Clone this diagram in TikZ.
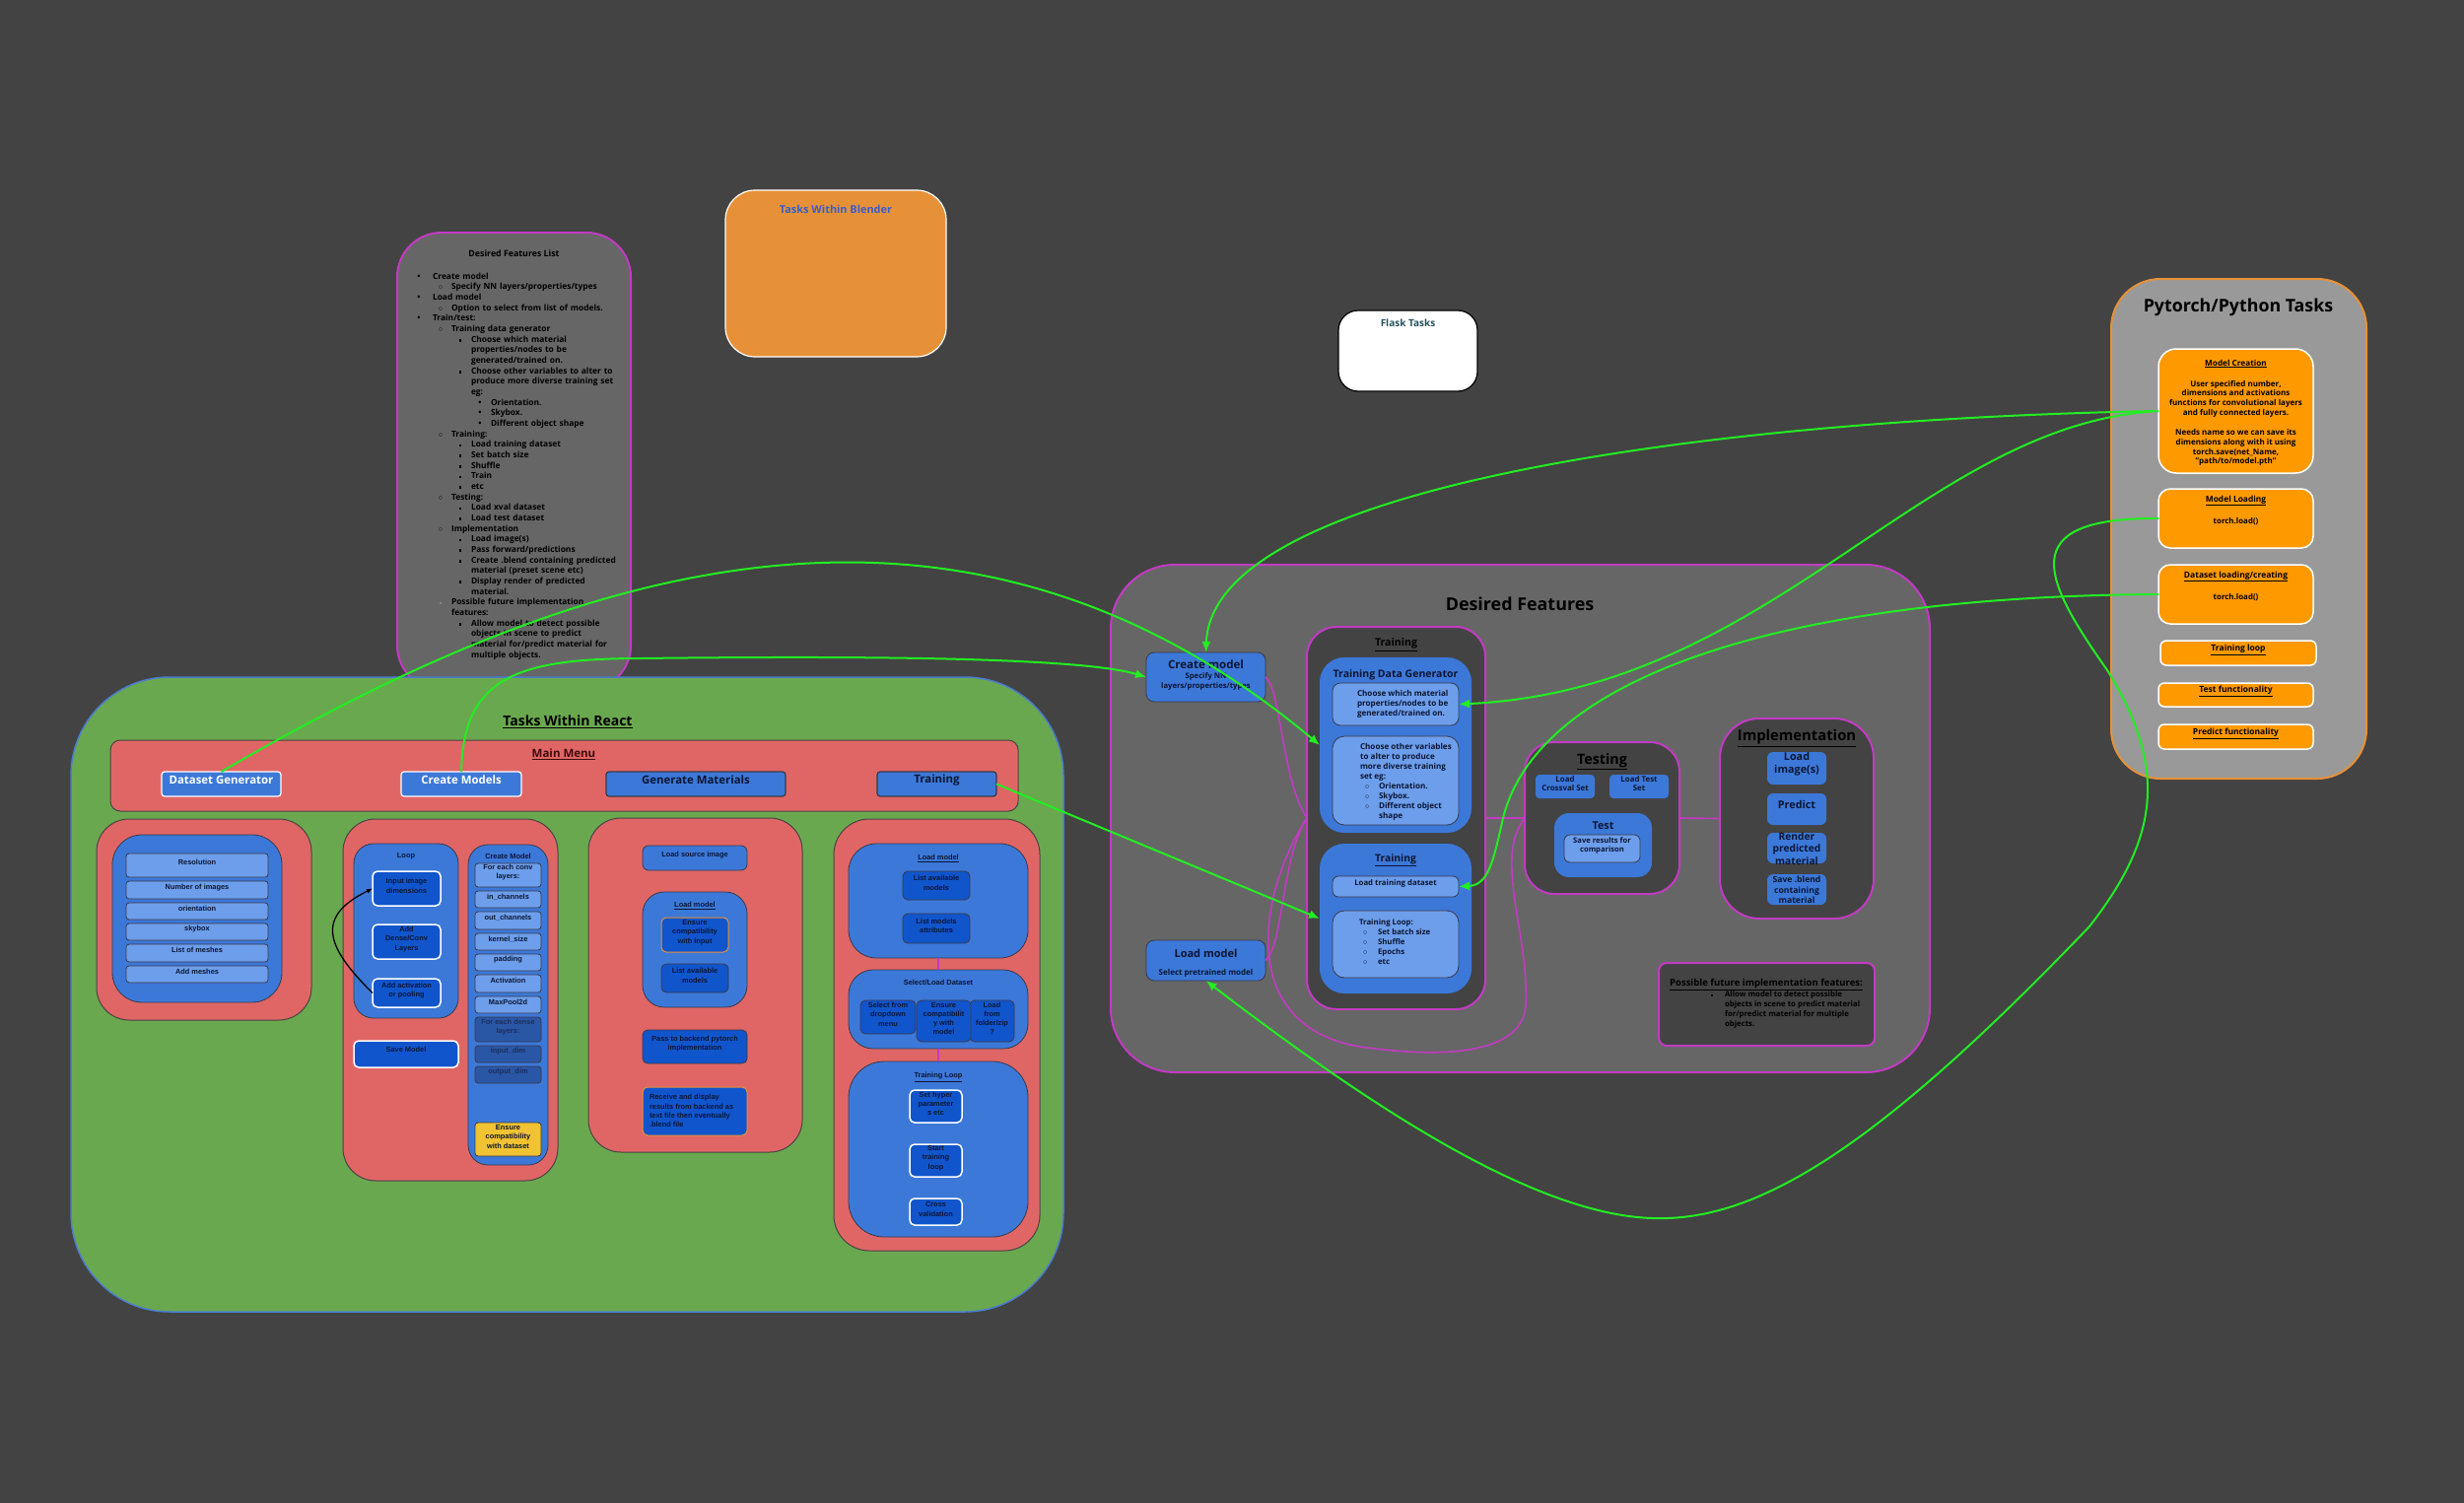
\documentclass[tikz,border=0pt]{standalone}
\usepackage{fontspec}
\setmainfont{Open Sans}
\newfontfamily\arialf{Liberation Sans}
\usepackage{enumitem}
\usetikzlibrary{fit}
\usetikzlibrary{arrows.meta}

\definecolor{bgc}{HTML}{434343}
\definecolor{dfgray}{HTML}{666666}
\definecolor{darkg}{HTML}{434343}
\definecolor{magc}{HTML}{C23BC2}
\definecolor{mblue}{HTML}{3C78D8}
\definecolor{lblue}{HTML}{6D9EEB}
\definecolor{kblue}{HTML}{1155CC}
\definecolor{dkblue}{HTML}{2A56A6}
\definecolor{dtxt}{HTML}{1A2F5C}
\definecolor{navy}{HTML}{0B1633}
\definecolor{edgec}{HTML}{3A3A48}
\definecolor{rred}{HTML}{E06666}
\definecolor{redge}{HTML}{4A4444}
\definecolor{rgreen}{HTML}{6AA84F}
\definecolor{rgedge}{HTML}{4A7CD0}
\definecolor{pygray}{HTML}{999999}
\definecolor{pyedge}{HTML}{E69138}
\definecolor{pyor}{HTML}{FF9900}
\definecolor{blendor}{HTML}{E69138}
\definecolor{blendtxt}{HTML}{3C5CC8}
\definecolor{flasktxt}{HTML}{28505C}
\definecolor{grn}{HTML}{22EE22}
\definecolor{yell}{HTML}{F1C232}
\definecolor{mmtxt}{HTML}{3D0C0C}

\newcommand{\fsz}[2]{\fontsize{#1}{#2}\selectfont\bfseries}
\newcommand{\afsz}[2]{\arialf\fontsize{#1}{#2}\selectfont\bfseries}
\newcommand{\graysq}{\makebox[0pt]{\textcolor{gray}{\rule[0.6pt]{2.6pt}{2.6pt}}}}

\setlist[itemize]{nosep, topsep=0pt, partopsep=0pt, parsep=0pt, itemsep=0pt, labelwidth=0pt, itemindent=0pt}
\setlist[itemize,1]{leftmargin=19pt, labelsep=14pt, label=\makebox[0pt]{\textbullet}}
\setlist[itemize,2]{leftmargin=19pt, labelsep=11pt, label=\makebox[0pt]{$\circ$}}
\setlist[itemize,3]{leftmargin=20pt, labelsep=11pt, label=\makebox[0pt]{\rule[0.6pt]{2.6pt}{2.6pt}}}
\setlist[itemize,4]{leftmargin=20pt, labelsep=11pt, label=\makebox[0pt]{\textbullet}}

\begin{document}
\begin{tikzpicture}[x=1pt, y=-1pt,
  every node/.style={inner sep=0pt, outer sep=0pt},
  mpanel/.style={fill=dfgray, draw=magc, line width=2pt},
  dpanel/.style={fill=darkg, draw=magc, line width=2pt},
  bbox/.style={fill=mblue, draw=edgec, line width=0.8pt, text=navy},
  bfill/.style={fill=mblue, draw=none, text=navy},
  lbox/.style={fill=lblue, draw=edgec, line width=0.8pt, text=navy},
  kbox/.style={fill=kblue, draw=edgec, line width=0.8pt, text=navy, rounded corners=5},
  kwbox/.style={fill=kblue, draw=white, line width=1.5pt, text=navy, rounded corners=5},
  kobox/.style={fill=kblue, draw=pyedge, line width=1pt, text=navy, rounded corners=5},
  rpanel/.style={fill=rred, draw=redge, line width=1pt},
  obox/.style={fill=pyor, draw=white, line width=1.5pt},
  menubtn/.style={fill=mblue, line width=1.2pt, rounded corners=3, font=\fsz{11.4}{13}},
  link/.style={draw=grn, line width=2pt, -{Latex[length=11pt,width=9pt]}},
  magline/.style={draw=magc, line width=1.6pt},
  rtxt/.style={font=\afsz{7.4}{9.3}, align=center, text=navy},
  litem/.style={lbox, rounded corners=3, rtxt}]

\fill[bgc] (0,0) rectangle (2500,1525);
\useasboundingbox (0,0) rectangle (2500,1525);

% desired features list
\node[mpanel, rounded corners=45, fit={(403,236) (640,700)}] (dfl) {};
\node[font=\fsz{8.8}{10}] (dfltitle) at (521.5,257) {Desired Features List};
\node[anchor=north west, text width=230pt, align=left, font=\fsz{8.4}{10.67}] (dflist) at (420,272.5) {%
\begin{itemize}
\item Create model
  \begin{itemize}\item Specify NN layers/properties/types\end{itemize}
\item Load model
  \begin{itemize}\item Option to select from list of models.\end{itemize}
\item Train/test:
  \begin{itemize}
  \item Training data generator
    \begin{itemize}
    \item Choose which material\newline properties/nodes to be\newline generated/trained on.
    \item Choose other variables to alter to\newline produce more diverse training set\newline eg:
      \begin{itemize}\item Orientation. \item Skybox. \item Different object shape\end{itemize}
    \end{itemize}
  \item Training:
    \begin{itemize}\item Load training dataset \item Set batch size \item Shuffle \item Train \item etc\end{itemize}
  \item Testing:
    \begin{itemize}\item Load xval dataset \item Load test dataset\end{itemize}
  \item Implementation
    \begin{itemize}\item Load image(s) \item Pass forward/predictions \item Create .blend containing predicted\newline material (preset scene etc) \item Display render of predicted\newline material.\end{itemize}
  \item[\graysq] Possible future implementation\newline features:
    \begin{itemize}\item Allow model to detect possible\newline objects in scene to predict\newline material for/predict material for\newline multiple objects.\end{itemize}
  \end{itemize}
\end{itemize}};

% blender and flask
\node[fill=blendor, draw=white, line width=1.2pt, rounded corners=30, fit={(736,193) (960,362)}] (blender) {};
\node[font=\fsz{10.9}{12}, text=blendtxt] (blendertitle) at (848,212) {Tasks Within Blender};
\node[fill=white, draw=black, line width=1.2pt, rounded corners=20, fit={(1358,315) (1499,397)}] (flask) {};
\node[font=\fsz{10}{12}, text=flasktxt] (flasktitle) at (1428.5,328) {Flask Tasks};

% pytorch
\node[fill=pygray, draw=pyedge, line width=2pt, rounded corners=50, fit={(2142,283) (2401,790)}] (pyt) {};
\node[font=\fsz{17.8}{20}] (pyttitle) at (2271,312) {Pytorch/Python Tasks};
\node[obox, rounded corners=18, fit={(2190,354) (2347,480)}] (mc) {};
\node[font=\fsz{8.2}{10}] (mctitle) at (2268.5,369) {\underline{Model Creation}};
\node[font=\fsz{8}{9.85}, align=center] (mctext) at (2268.5,429.4) {User specified number,\\dimensions and activations\\functions for convolutional layers\\and fully connected layers.\\[9.85pt]Needs name so we can save its\\dimensions along with it using\\torch.save(net\_Name,\\"path/to/model.pth"};
\node[obox, rounded corners=12, fit={(2190,496) (2347,556)}] (ml) {};
\node[font=\fsz{8.4}{10}] (mltitle) at (2268.5,508) {\underline{Model Loading}};
\node[font=\fsz{7.9}{10}] (mlcode) at (2268.5,529) {torch.load()};
\node[obox, rounded corners=12, fit={(2190,573) (2347,633)}] (dlc) {};
\node[font=\fsz{8.5}{10}] (dlctitle) at (2268.5,585) {\underline{Dataset loading/creating}};
\node[font=\fsz{7.9}{10}] (dlccode) at (2268.5,606) {torch.load()};
\node[obox, rounded corners=6, font=\fsz{8.5}{10}, fit={(2192,650) (2350,675)}] (tloop) {\underline{Training loop}};
\node[obox, rounded corners=6, font=\fsz{8.5}{10}, fit={(2190,693) (2347,717)}] (testf) {\underline{Test functionality}};
\node[obox, rounded corners=6, font=\fsz{8.5}{10}, fit={(2190,735) (2347,760)}] (predf) {\underline{Predict functionality}};

% desired features
\node[mpanel, rounded corners=65, fit={(1127,573) (1958,1088)}] (df) {};
\node[font=\fsz{17.9}{20}] (dftitle) at (1542,613) {Desired Features};
\node[bbox, rounded corners=8, fit={(1163,662) (1284,712)}] (cmodel) {};
\node[font=\fsz{11.5}{13}, text=navy] (cmodeltitle) at (1223.5,674) {Create model};
\node[font=\fsz{7.7}{10}, align=center, text=navy] (cmodelsub) at (1223.5,691) {Specify NN\\layers/properties/types};
\node[bbox, rounded corners=8, fit={(1163,954) (1284,995)}] (lmodel) {};
\node[font=\fsz{11}{13}, text=navy] (lmodeltitle) at (1223.5,967) {Load model};
\node[font=\fsz{8}{10}, text=navy] (lmodelsub) at (1223.5,987) {Select pretrained model};

\node[dpanel, rounded corners=30, fit={(1326,636) (1507,1024)}] (trainout) {};
\node[font=\fsz{10.6}{12}] (trainouttitle) at (1416.5,654) {\underline{Training}};
\node[bfill, rounded corners=25, fit={(1339,667) (1493,845)}] (tdg) {};
\node[font=\fsz{10.5}{12}, text=navy] (tdgtitle) at (1416,685) {Training Data Generator};
\node[lbox, rounded corners=8, fit={(1352,693) (1480,736)}] (gen1) {};
\node[anchor=west, font=\fsz{8.1}{9.8}, align=left, text=navy] (gen1text) at (1377,714.5) {Choose which material\\properties/nodes to be\\generated/trained on.};
\node[lbox, rounded corners=12, fit={(1352,747) (1480,837)}] (gen2) {};
\node[anchor=west, font=\fsz{8.1}{9.9}, align=left, text=navy] (gen2text) at (1380,793.5) {Choose other variables\\to alter to produce\\more diverse training\\set eg:\\\makebox[19pt][l]{\hspace{5pt}$\circ$}Orientation.\\\makebox[19pt][l]{\hspace{5pt}$\circ$}Skybox.\\\makebox[19pt][l]{\hspace{5pt}$\circ$}Different object\\\hspace*{19pt}shape};
\node[bfill, rounded corners=25, fit={(1339,856) (1493,1008)}] (trainin) {};
\node[font=\fsz{10.3}{12}, text=navy] (trainintitle) at (1416,873) {\underline{Training}};
\node[lbox, rounded corners=6, font=\fsz{7.8}{9}, fit={(1352,889) (1480,910)}] (ltd) {Load training dataset};
\node[lbox, rounded corners=12, fit={(1352,924) (1480,992)}] (tloopbox) {};
\node[anchor=west, font=\fsz{7.8}{10}, align=left, text=navy] (tlooptext) at (1379,956) {Training Loop:\\\makebox[19pt][l]{\hspace{4pt}$\circ$}Set batch size\\\makebox[19pt][l]{\hspace{4pt}$\circ$}Shuffle\\\makebox[19pt][l]{\hspace{4pt}$\circ$}Epochs\\\makebox[19pt][l]{\hspace{4pt}$\circ$}etc};

\node[dpanel, rounded corners=30, fit={(1547,753) (1704,907)}] (testing) {};
\node[font=\fsz{14.3}{16}] (testingtitle) at (1625.5,773) {\underline{Testing}};
\node[bfill, rounded corners=4, font=\fsz{7.9}{9.7}, align=center, fit={(1558,786) (1618,810)}] (lcs) {Load\\Crossval Set};
\node[bfill, rounded corners=4, font=\fsz{7.9}{9.7}, align=center, fit={(1633,786) (1693,810)}] (lts) {Load Test\\Set};
\node[bfill, rounded corners=15, fit={(1577,825) (1676,890)}] (testbox) {};
\node[font=\fsz{10.8}{12}, text=navy] (testtitle) at (1626.5,838) {Test};
\node[lbox, rounded corners=6, font=\fsz{7.6}{9.5}, align=center, fit={(1587,847) (1664,875)}] (savres) {Save results for\\comparison};

\node[dpanel, rounded corners=40, fit={(1745,729) (1901,932)}] (impl) {};
\node[font=\fsz{14.8}{16}] (impltitle) at (1823,749) {\underline{Implementation}};
\node[bfill, rounded corners=6, font=\fsz{10.8}{12.5}, align=center, fit={(1793,763) (1853,796)}] (limg) {Load\\image(s)};
\node[bfill, rounded corners=6, font=\fsz{10.8}{12.5}, fit={(1793,805) (1853,837)}] (pred) {Predict};
\node[bfill, rounded corners=6, fit={(1793,845) (1853,876)}] (rpm) {};
\node[font=\fsz{10.2}{12.3}, align=center, text=navy] (rpmtext) at (1823,861) {Render\\predicted\\material};
\node[bfill, rounded corners=6, fit={(1793,887) (1853,918)}] (sbc) {};
\node[font=\fsz{8.6}{10.7}, align=center, text=navy] (sbctext) at (1823,903) {Save .blend\\containing\\material};

\node[dpanel, rounded corners=8, fit={(1683,977) (1902,1061)}] (pfi) {};
\node[font=\fsz{9.5}{11}] (pfititle) at (1792,999) {\underline{Possible future implementation features:}};
\node[fill=black, minimum size=2.6pt] (pfibullet) at (1737,1010) {};
\node[anchor=west, font=\fsz{7.8}{9.7}, align=left] (pfitext) at (1750,1024.5) {Allow model to detect possible\\objects in scene to predict material\\for/predict material for multiple\\objects.};

\draw[magline] (trainout.east) -- (testing.west);
\draw[magline] (testing.east) -- (impl.west);
\draw[magline] (cmodel.east) .. controls (1300,700) and (1300,790) .. (trainout.west);
\draw[magline] (lmodel.east) .. controls (1302,960) and (1300,870) .. (trainout.west);
\draw[magline] (trainout.west) .. controls (1280,900) and (1250,1040) .. (1380,1062) .. controls (1470,1075) and (1545,1068) .. (1548,1020) .. controls (1552,950) and (1515,870) .. (testing.west);

% react
\node[fill=rgreen, draw=rgedge, line width=1.5pt, rounded corners=100, fit={(72,687) (1079,1331)}] (react) {};
\node[font=\fsz{14}{16}] (reacttitle) at (576,732) {\underline{Tasks Within React}};
\node[rpanel, rounded corners=10, fit={(112,751) (1033,823)}] (menu) {};
\node[font=\fsz{11.5}{13}, text=mmtxt] (menutitle) at (572,765) {\underline{Main Menu}};
\node[menubtn, draw=white, text=white, fit={(164,783) (285,808)}] (dg) {Dataset Generator};
\node[menubtn, draw=white, text=white, fit={(407,783) (529,808)}] (cmb) {Create Models};
\node[menubtn, draw=edgec, text=navy, fit={(615,783) (797,808)}] (gm) {Generate Materials};
\node[menubtn, draw=edgec, text=navy, fit={(890,783) (1011,808)}] (trb) {Training};

\node[rpanel, rounded corners=33, fit={(98,831) (316,1035)}] (dgpanel) {};
\node[bbox, rounded corners=30, fit={(114,847) (286,1017)}] (dgblue) {};
\node[litem, fit={(128,866) (272,890)}] (res) {Resolution};
\node[litem, fit={(128,894) (272,912)}] (nimg) {Number of images};
\node[litem, fit={(128,916) (272,933)}] (orient) {orientation};
\node[litem, fit={(128,937) (272,954)}] (skyb) {skybox};
\node[litem, fit={(128,958) (272,976)}] (lmesh) {List of meshes};
\node[litem, fit={(128,980) (272,997)}] (amesh) {Add meshes};

\node[rpanel, rounded corners=33, fit={(348,831) (566,1198)}] (cmpanel) {};
\node[bbox, rounded corners=20, fit={(359,856) (465,1033)}] (loop) {};
\node[rtxt] (looptitle) at (412,869) {Loop};
\node[kwbox, rtxt, fit={(378,884) (447,919)}] (iid) {Input image\\dimensions};
\node[kwbox, rtxt, fit={(378,938) (447,973)}] (adc) {Add\\Dense/Conv\\Layers};
\node[kwbox, rtxt, fit={(378,993) (447,1022)}] (aap) {Add activation\\or pooling};
\draw[black, line width=1.3pt, -{Latex[length=6pt,width=5pt]}] (aap.west) .. controls (330,960) and (320,930) .. (iid.west);
\node[kwbox, fit={(359,1056) (465,1083)}] (savem) {};
\node[rtxt] (savemtext) at (412,1065) {Save Model};
\node[bbox, rounded corners=20, fit={(475,857) (556,1182)}] (cmodelp) {};
\node[rtxt] (cmodelptitle) at (515.5,869) {Create Model};
\node[litem, fit={(482,876) (549,900)}] (fconv) {For each conv\\layers:};
\node[litem, fit={(482,904) (549,921)}] (inch) {in\_channels};
\node[litem, fit={(482,925) (549,943)}] (outch) {out\_channels};
\node[litem, fit={(482,947) (549,964)}] (ksize) {kernel\_size};
\node[litem, fit={(482,968) (549,985)}] (padd) {padding};
\node[litem, fit={(482,989) (549,1007)}] (activ) {Activation};
\node[litem, fit={(482,1011) (549,1028)}] (mpool) {MaxPool2d};
\node[litem, fill=dkblue, text=dtxt, fit={(482,1032) (549,1057)}] (fdense) {For each dense\\layers:};
\node[litem, fill=dkblue, text=dtxt, fit={(482,1061) (549,1078)}] (indim) {input\_dim};
\node[litem, fill=dkblue, text=dtxt, fit={(482,1082) (549,1099)}] (outdim) {output\_dim};
\node[litem, fill=yell, fit={(482,1139) (549,1173)}] (ecd) {Ensure\\compatibility\\with dataset};

\node[rpanel, rounded corners=33, fit={(597,830) (814,1169)}] (gmpanel) {};
\node[bbox, rounded corners=6, rtxt, fit={(652,858) (758,883)}] (lsi) {Load source image};
\node[bbox, rounded corners=22, fit={(652,905) (758,1022)}] (lmp) {};
\node[rtxt] (lmptitle) at (705,919) {\underline{Load model}};
\node[kobox, rtxt, fit={(671,931) (739,966)}] (eci) {Ensure\\compatibility\\with input};
\node[kbox, rtxt, fit={(671,978) (739,1007)}] (lam) {List available\\models};
\node[kbox, rtxt, fit={(652,1045) (758,1079)}] (pbp) {Pass to backend pytorch\\implementation};
\node[kobox, fit={(652,1103) (758,1152)}] (rdr) {};
\node[rtxt, anchor=west, align=left] (rdrtext) at (659,1127) {Receive and display\\results from backend as\\text file then eventually\\.blend file};

\node[rpanel, rounded corners=36, fit={(846,831) (1055,1269)}] (trpanel) {};
\node[bbox, rounded corners=28, fit={(861,856) (1043,972)}] (lm4) {};
\node[rtxt] (lm4title) at (952,871) {\underline{Load model}};
\node[kbox, rtxt, fit={(916,884) (984,913)}] (la4) {List available\\models};
\node[kbox, rtxt, fit={(916,927) (984,957)}] (lma) {List models\\attributes};
\node[bbox, rounded corners=25, fit={(861,984) (1043,1064)}] (sld) {};
\node[rtxt] (sldtitle) at (952,997) {Select/Load Dataset};
\node[kbox, rtxt, fit={(873,1015) (929,1049)}] (sfd) {Select from\\dropdown\\menu};
\node[kbox, rtxt, fit={(984,1015) (1029,1057)}] (lfz) {Load\\from\\folder/zip\\?};
\node[kbox, rtxt, fit={(930,1015) (985,1057)}] (ecm) {Ensure\\compatibilit\\y with\\model};
\node[bbox, rounded corners=36, fit={(861,1077) (1043,1255)}] (tl4) {};
\node[rtxt] (tl4title) at (952,1093) {\underline{Training Loop}};
\node[kwbox, rtxt, fit={(923,1106) (976,1139)}] (shp) {Set hyper\\parameter\\s etc};
\node[kwbox, rtxt, fit={(923,1161) (976,1194)}] (stl) {Start\\training\\loop};
\node[kwbox, rtxt, fit={(923,1216) (976,1243)}] (cval) {Cross\\validation};
\draw[magline] (lm4.south) -- (sld.north);
\draw[magline] (sld.south) -- (tl4.north);

% links
\draw[link] (dg.north) .. controls (540,600) and (950,430) .. (tdg.west);
\draw[link] (cmb.north) .. controls (470,690) and (520,668) .. (650,668) .. controls (900,665) and (1100,668) .. (cmodel.west);
\draw[link] (trb.east) -- (trainin.west);
\draw[link] (mc.west) .. controls (1750,425) and (1230,490) .. (cmodel.north);
\draw[link] (mc.west) .. controls (1950,430) and (1800,700) .. (gen1.east);
\draw[link] (dlc.west) .. controls (1800,605) and (1560,690) .. (1525,830) .. controls (1515,875) and (1510,898) .. (ltd.east);
\draw[link] (ml.west) .. controls (2040,525) and (2075,590) .. (2138,680) .. controls (2200,780) and (2190,850) .. (2120,940) .. controls (1900,1170) and (1780,1240) .. (1676,1236) .. controls (1560,1232) and (1400,1130) .. (lmodel.south);
\end{tikzpicture}
\end{document}
